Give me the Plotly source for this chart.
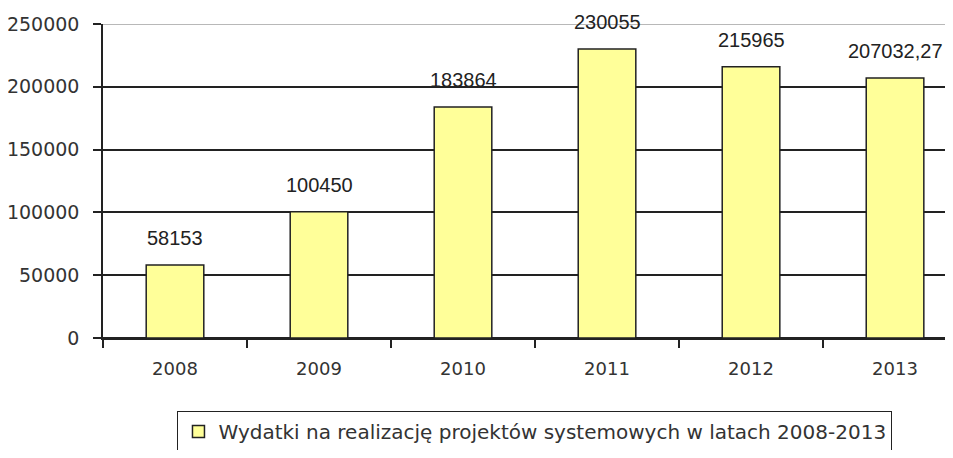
import plotly.graph_objects as go

# wydatki na projekty systemowe 2008-2013
years = ["2008", "2009", "2010", "2011", "2012", "2013"]
values = [58153, 100450, 183864, 230055, 215965, 207032.27]
labels = ["58153", "100450", "183864", "230055", "215965", "207032,27"]
y_ticks = [0, 50000, 100000, 150000, 200000, 250000]
legend_name = "Wydatki na realizację projektów systemowych w latach 2008-2013"

fig = go.Figure()
fig.add_trace(go.Bar(
    x=years, y=values, name=legend_name, width=0.4,
    marker=dict(color="#FFFF99", line=dict(color="#222222", width=1.5)),
    showlegend=True,
))

# value labels above bars (category axis -> use index)
for i, (v, t) in enumerate(zip(values, labels)):
    fig.add_annotation(x=i, y=v, text=t, showarrow=False, yshift=27,
                       font=dict(family="Liberation Sans", size=20, color="#222222"))

# top border of the plot area is grey
fig.add_shape(type="line", xref="paper", x0=0, x1=1, yref="y", y0=250000, y1=250000,
              line=dict(color="#a0a0a0", width=1.5), layer="above")

# page body has 8px margin all round -> figure sized to fit the window exactly
fig.update_layout(
    width=937, height=442,
    margin=dict(l=95, r=0, t=16, b=112),
    paper_bgcolor="white", plot_bgcolor="white",
    font=dict(family="DejaVu Sans", size=19, color="#333333"),
    bargap=0.6,
    legend=dict(orientation="h", xref="container", yref="container",
                x=0.5624, xanchor="center", y=0.088, yanchor="top",
                bordercolor="#222222", borderwidth=1,
                font=dict(family="DejaVu Sans", size=20, color="#333333")),
    xaxis=dict(type="category", range=[-0.5, 5.347], showline=True, linecolor="#222222",
               linewidth=1.5, ticks="outside", tickson="boundaries", ticklen=8,
               tickcolor="#222222", tickwidth=1.5, ticklabelstandoff=14, showgrid=False,
               automargin=False, tickfont=dict(size=18)),
    yaxis=dict(range=[0, 250000], tickvals=y_ticks, tickformat="d", showline=True,
               linecolor="#222222", linewidth=1.5, ticks="outside", ticklen=8,
               tickcolor="#222222", tickwidth=1.5,
               showgrid=True, gridcolor="#222222", gridwidth=1.5,
               zeroline=True, zerolinecolor="#222222", zerolinewidth=1.5,
               ticklabelstandoff=10, automargin=False, tickfont=dict(size=19)),
)

fig.write_html("out.html")
